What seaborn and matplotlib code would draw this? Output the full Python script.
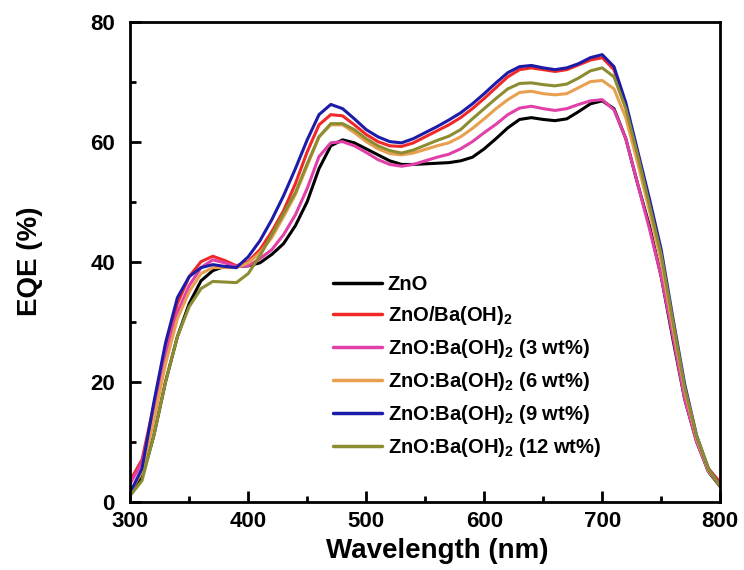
import numpy as np
import pandas as pd
import matplotlib
matplotlib.use("Agg")
import matplotlib.pyplot as plt
from matplotlib.ticker import MultipleLocator
import seaborn as sns

# wavelength grid (nm)
wavelength = list(range(300, 801, 10))

labels = [
    "ZnO",
    "ZnO/Ba(OH)$_2$",
    "ZnO:Ba(OH)$_2$ (3 wt%)",
    "ZnO:Ba(OH)$_2$ (6 wt%)",
    "ZnO:Ba(OH)$_2$ (9 wt%)",
    "ZnO:Ba(OH)$_2$ (12 wt%)",
]
colors = ["#000000", "#f02828", "#e040a8", "#e8a050", "#1c1ca8", "#8c8c32"]

# EQE (%), 300-800 nm in 10 nm steps
eqe_zno = [1.5, 4, 11, 20, 27.5, 33, 36.8, 38.5, 39.2, 39.2,
           39.3, 39.8, 41.2, 43, 46, 50, 55.5, 59.3, 60.3, 59.8,
           58.8, 57.8, 56.8, 56.2, 56.2, 56.3, 56.4, 56.5, 56.8, 57.4,
           58.8, 60.5, 62.3, 63.7, 64, 63.7, 63.5, 63.8, 65, 66.3,
           66.8, 65.5, 60.5, 53, 46, 37.5, 27, 17, 10, 5, 2.5]
eqe_bilayer = [3.5, 7, 16, 26, 33, 37.5, 40, 40.9, 40.2, 39.3,
               40, 42, 45, 48.5, 53, 58.3, 62.8, 64.5, 64.3, 62.8,
               61.2, 60, 59.3, 59.2, 59.8, 60.8, 61.8, 62.8, 64, 65.5,
               67.2, 69, 70.8, 72, 72.3, 72, 71.7, 72, 72.8, 73.6,
               74, 72, 66, 57.8, 49.5, 41, 29.5, 18.5, 10.5, 5.5, 3.2]
eqe_3wt = [3, 6.5, 15, 24.5, 31.5, 36, 39, 40.3, 39.8, 39.2,
           39.3, 40.5, 42, 44.5, 47.8, 52.2, 57.5, 59.8, 60, 59.3,
           58.2, 57, 56.2, 55.9, 56.2, 56.8, 57.4, 57.9, 58.8, 60,
           61.5, 62.9, 64.5, 65.6, 65.9, 65.5, 65.2, 65.5, 66.2, 66.8,
           67, 65.3, 60.5, 53, 45.5, 37.5, 27.5, 17, 10, 5, 3]
eqe_6wt = [1.5, 5, 13.5, 23, 30.5, 35, 38, 39, 39, 39,
           39.8, 41.5, 44, 47.5, 51.2, 56, 60.8, 62.8, 62.8, 61.5,
           60, 58.8, 58, 57.8, 58.1, 58.7, 59.3, 59.8, 60.8, 62.2,
           63.8, 65.5, 67, 68.2, 68.4, 68, 67.8, 68, 69, 70,
           70.2, 68.8, 64, 56.5, 48.5, 40, 29, 18.5, 10.5, 5.2, 2.5]
eqe_9wt = [1.5, 5.5, 16.5, 26.5, 34, 37.5, 39, 39.5, 39.2, 39,
           40.8, 43.5, 47, 51, 55.5, 60.3, 64.5, 66.2, 65.5, 63.8,
           62, 60.8, 60, 59.8, 60.5, 61.5, 62.5, 63.6, 64.8, 66.3,
           68, 69.8, 71.5, 72.5, 72.7, 72.3, 72, 72.3, 73, 74,
           74.5, 72.5, 66.5, 58.5, 50.5, 42, 30.5, 19.5, 11, 5.5, 2.5]
eqe_12wt = [1, 3.5, 11, 20, 27.5, 32.5, 35.5, 36.7, 36.6, 36.5,
            38, 41, 44.5, 48, 51.5, 56.3, 60.8, 63, 63, 62,
            60.5, 59.3, 58.5, 58.1, 58.6, 59.4, 60.2, 60.9, 62, 63.8,
            65.5, 67.2, 68.8, 69.7, 69.8, 69.5, 69.3, 69.6, 70.6, 71.8,
            72.3, 70.8, 65.5, 57.8, 49.5, 41.2, 30, 19, 11, 5.5, 2.5]

series = [eqe_zno, eqe_bilayer, eqe_3wt, eqe_6wt, eqe_9wt, eqe_12wt]

df = pd.concat([
    pd.DataFrame({"Wavelength": wavelength, "EQE": vals, "Sample": lab})
    for lab, vals in zip(labels, series)
])

sns.set_theme(style="ticks")
plt.rcParams['font.family'] = ['Liberation Sans', 'DejaVu Sans']
plt.rcParams['font.weight'] = 'bold'
plt.rcParams['text.color'] = 'black'
plt.rcParams['axes.labelcolor'] = 'black'
plt.rcParams['mathtext.fontset'] = 'custom'
plt.rcParams['mathtext.rm'] = 'Liberation Sans:bold'
plt.rcParams['mathtext.bf'] = 'Liberation Sans:bold'
plt.rcParams['mathtext.default'] = 'bf'

fig = plt.figure(figsize=(7.44, 5.70), dpi=100)
ax = fig.add_axes([0.175, 0.12, 0.793, 0.842])

sns.lineplot(data=df, x="Wavelength", y="EQE", hue="Sample",
             hue_order=labels, palette=dict(zip(labels, colors)),
             linewidth=2.2, ax=ax)

ax.set_xlim(300, 800)
ax.set_ylim(0, 80)
ax.xaxis.set_major_locator(MultipleLocator(100))
ax.xaxis.set_minor_locator(MultipleLocator(50))
ax.yaxis.set_major_locator(MultipleLocator(20))
ax.yaxis.set_minor_locator(MultipleLocator(10))
ax.tick_params(which='both', direction='in', width=2, colors='black',
               labelsize=16, top=False, right=False)
ax.tick_params(which='major', length=8)
ax.tick_params(which='minor', length=4.5)
ax.tick_params(axis='x', pad=7)
ax.tick_params(axis='y', pad=11)
for lbl in ax.get_xticklabels() + ax.get_yticklabels():
    lbl.set_fontweight('bold')
for sp in ax.spines.values():
    sp.set_linewidth(2)
    sp.set_color('black')

ax.set_xlabel("Wavelength (nm)", fontsize=20, fontweight='bold', color='black')
ax.set_ylabel("EQE (%)", fontsize=20, fontweight='bold', color='black', labelpad=34)
ax.xaxis.set_label_coords(0.52, -0.075)

leg = ax.legend(loc='upper left', bbox_to_anchor=(0.344, 0.473), frameon=False,
                borderpad=0, borderaxespad=0, handlelength=2.45,
                handletextpad=0.25, labelspacing=0.5,
                prop={'size': 14.5, 'weight': 'bold'})
for txt in leg.get_texts():
    txt.set_color('black')
for line in leg.get_lines():
    line.set_linewidth(2.5)

fig.savefig("out.png", dpi=100)
